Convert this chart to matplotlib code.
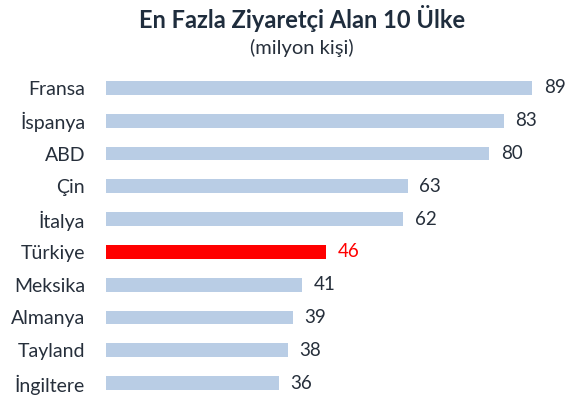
import matplotlib.pyplot as plt

countries = ['Fransa', 'İspanya', 'ABD', 'Çin', 'İtalya',
             'Türkiye', 'Meksika', 'Almanya', 'Tayland', 'İngiltere']
visitors = [89, 83, 80, 63, 62, 46, 41, 39, 38, 36]
highlight = 'Türkiye'

plt.rcParams['font.family'] = ['Lato', 'DejaVu Sans']

BLUE = '#B9CDE5'
RED = '#FF0000'
TXT = '#262F3B'

fig = plt.figure(figsize=(5.66, 4.0), dpi=100)
ax = fig.add_axes([106 / 566, 0.0015, 460 / 566, 0.8195])

ypos = list(range(len(countries)))
colors = [RED if c == highlight else BLUE for c in countries]
ax.barh(ypos, visitors, height=0.42, color=colors)

for y, v, c in zip(ypos, visitors, countries):
    ax.text(v + 2.4, y, str(v), va='center', ha='left', fontsize=13.5,
            color=RED if c == highlight else TXT)

ax.set_yticks(ypos)
ax.set_yticklabels(countries, fontsize=14, color=TXT)
ax.tick_params(axis='y', length=0, pad=15)
ax.set_xticks([])
ax.set_xlim(0, 96)
ax.set_ylim(len(countries) - 0.5, -0.5)
for s in ax.spines.values():
    s.set_visible(False)

fig.text(302 / 566, 1 - 19 / 400, 'En Fazla Ziyaretçi Alan 10 Ülke',
         ha='center', va='center', fontsize=17, fontweight='bold', color='#1F2D3D')
fig.text(302 / 566, 1 - 48 / 400, '(milyon kişi)',
         ha='center', va='center', fontsize=14.5, color=TXT)

fig.savefig('out.png', dpi=100)
